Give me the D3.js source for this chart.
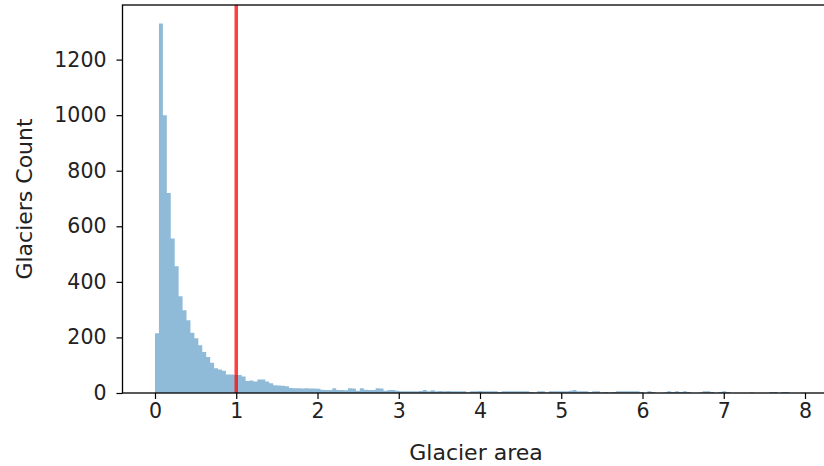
<!DOCTYPE html>
<html>
<head>
<meta charset="utf-8">
<script src="https://cdn.jsdelivr.net/npm/d3@7"></script>
<style>
  body { margin: 0; background: white; }
  svg { display: block; }
  text { font-family: "DejaVu Sans", sans-serif; fill: #222; }
</style>
</head>
<body>
<svg></svg>
<script>
//DATA
var binStart = 0;
var binEnd = 8;
var counts = [
  215, 1330, 1000, 720, 556, 456, 348, 298, 262, 217,
  197, 172, 148, 130, 109, 89, 85, 80, 67, 67,
  65, 65, 59, 43, 45, 41, 49, 49, 41, 35,
  28, 27, 26, 24, 18, 17, 17, 16, 17, 16,
  16, 15, 12, 11, 11, 17, 11, 11, 10, 17,
  16, 8, 17, 12, 11, 11, 17, 16, 8, 11,
  11, 8, 6, 6, 6, 6, 6, 7, 11, 6,
  10, 6, 7, 6, 7, 6, 6, 6, 6, 2,
  6, 6, 7, 6, 6, 6, 6, 4, 6, 6,
  6, 6, 6, 6, 6, 4, 2, 6, 6, 2,
  6, 6, 6, 6, 6, 8, 11, 6, 6, 6,
  4, 6, 6, 2, 4, 2, 4, 6, 6, 6,
  6, 6, 6, 4, 0, 6, 4, 0, 0, 2,
  6, 4, 6, 4, 6, 4, 0, 0, 2, 6,
  6, 4, 0, 4, 6, 4, 0, 0, 0, 0,
  0, 2, 0, 0, 0, 0, 4, 4, 0, 4,
  4, 0, 0, 0, 1
];
var threshold = 1;
var xTicks = [0, 1, 2, 3, 4, 5, 6, 7, 8];
var yTicks = [0, 200, 400, 600, 800, 1000, 1200];
var xLabel = "Glacier area";
var yLabel = "Glaciers Count";

//SET UP THE CANVAS
var w = 824;
var h = 466;
var plotLeft = 122.5, plotTop = 5, plotBottom = 393;

var svg = d3.select("svg")
  .attr("width", w)
  .attr("height", h);

var binWidth = (binEnd - binStart) / counts.length;
var bins = counts.map(function (c, i) {
  return { x0: binStart + i * binWidth, x1: binStart + (i + 1) * binWidth, n: c };
});

//matplotlib style 5% margins
var pad = (binEnd - binStart) * 0.05;
var xScale = d3.scaleLinear()
  .domain([binStart - pad, binEnd + pad])
  .range([plotLeft, 837.5]);
var yScale = d3.scaleLinear()
  .domain([0, d3.max(counts) * 1.05])
  .range([plotBottom, plotTop]);

//HISTOGRAM as one step area (no seams between bars)
var stepPts = bins.concat([{ x0: binEnd, n: counts[counts.length - 1] }]);
var areaMaker = d3.area()
  .curve(d3.curveStepAfter)
  .x(function (d) { return xScale(d.x0); })
  .y0(yScale(0))
  .y1(function (d) { return yScale(d.n); });

svg.append("path")
  .attr("d", areaMaker(stepPts))
  .attr("fill", "#1f77b4")
  .attr("fill-opacity", 0.5);

//THRESHOLD LINE
svg.append("line")
  .attr("x1", xScale(threshold))
  .attr("x2", xScale(threshold))
  .attr("y1", yScale.range()[0])
  .attr("y2", yScale.range()[1])
  .attr("stroke", "red")
  .attr("stroke-opacity", 0.75)
  .attr("stroke-width", 3.5);

//AXES
var xAxis = d3.axisBottom(xScale)
  .tickValues(xTicks)
  .tickSize(6)
  .tickPadding(4)
  .tickSizeOuter(0)
  .tickFormat(d3.format("d"));
var yAxis = d3.axisLeft(yScale)
  .tickValues(yTicks)
  .tickSize(6)
  .tickPadding(10)
  .tickSizeOuter(0)
  .tickFormat(d3.format("d"));

var gx = svg.append("g")
  .attr("transform", "translate(0," + plotBottom + ")")
  .call(xAxis);
var gy = svg.append("g")
  .attr("transform", "translate(" + plotLeft + ",0)")
  .call(yAxis);

[gx, gy].forEach(function (g) {
  g.select(".domain").remove();
  g.selectAll(".tick line").attr("stroke", "#000").attr("stroke-width", 1.2);
  g.selectAll(".tick text").style("font-size", "20.5px").attr("fill", "#222");
});

//SPINES
var x0 = xScale.range()[0], x1 = xScale.range()[1];
svg.append("rect")
  .attr("x", x0)
  .attr("y", plotTop)
  .attr("width", x1 - x0)
  .attr("height", plotBottom - plotTop)
  .attr("fill", "none")
  .attr("stroke", "#000")
  .attr("stroke-width", 1.3);

//LABELS
svg.append("text")
  .attr("x", 476)
  .attr("y", 460)
  .attr("text-anchor", "middle")
  .style("font-size", "22px")
  .text(xLabel);

svg.append("text")
  .attr("transform", "translate(32," + ((plotTop + plotBottom) / 2) + ") rotate(-90)")
  .attr("text-anchor", "middle")
  .style("font-size", "22px")
  .text(yLabel);
</script>
</body>
</html>
